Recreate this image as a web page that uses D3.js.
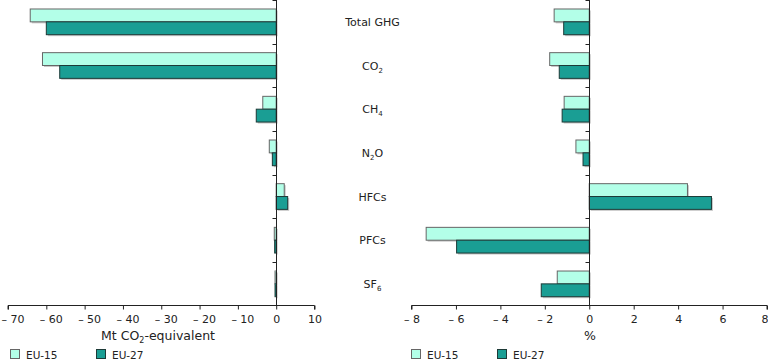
<!DOCTYPE html>
<html>
<head>
  <meta charset="UTF-8">
  <script src="https://d3js.org/d3.v7.min.js"></script>
  <style>
    body { margin: 0; background: #fff; font-family: "DejaVu Sans", Verdana, sans-serif; }
    text { font-size: 11px; fill: #222; }
  </style>
</head>
<body>
  <div id="chart"></div>
  <script>
    const categories = ["Total GHG", "CO2", "CH4", "N2O", "HFCs", "PFCs", "SF6"];
    const labelMain = ["Total GHG", "CO", "CH", "N", "HFCs", "PFCs", "SF"];
    const labelSub  = ["", "2", "4", "2", "", "", "6"];
    const labelTail = ["", "", "", "O", "", "", ""];
    const seriesNames = ["EU-15", "EU-27"];
    // Mt CO2-equivalent
    const absEU15 = [-64.2, -61.0, -3.5, -1.8, 2.1, -0.5, -0.3];
    const absEU27 = [-60.0, -56.5, -5.2, -1.0, 3.0, -0.4, -0.3];
    // %
    const pctEU15 = [-1.58, -1.78, -1.13, -0.6, 4.42, -7.34, -1.44];
    const pctEU27 = [-1.15, -1.35, -1.22, -0.28, 5.5, -5.97, -2.16];
    const leftTicks = [-70, -60, -50, -40, -30, -20, -10, 0, 10];
    const rightTicks = [-8, -6, -4, -2, 0, 2, 4, 6, 8];

    const W = 768, H = 361;
    const fills = {"EU-15": "#b3ffe8", "EU-27": "#1a9e94"};
    const strokes = {"EU-15": "#666", "EU-27": "#1d3a37"};

    const svg = d3.select("#chart").append("svg")
      .attr("width", W).attr("height", H);

    const y = d3.scaleBand().domain(categories).range([0, 305.7]).padding(0);
    const ySub = d3.scaleBand().domain(seriesNames).range([0, y.bandwidth()]).paddingOuter(0.7).paddingInner(0);

    const fmt = d => d < 0 ? "\u2013 " + Math.abs(d) : String(d);

    function panel(xRange, domain, ticks, v15, v27, negShift, legendX, title, titleSub, titleTail, titleX) {
      const x = d3.scaleLinear().domain(domain).range(xRange);
      const g = svg.append("g");
      const rows = categories.map((c, i) => ({c, vals: [{s: "EU-15", v: v15[i]}, {s: "EU-27", v: v27[i]}]}));

      const row = g.selectAll(".row").data(rows).enter().append("g")
        .attr("transform", d => `translate(0,${y(d.c)})`);

      // shadow
      row.selectAll(".sh").data(d => d.vals).enter().append("rect")
        .attr("x", d => Math.min(x(0), x(d.v)) + 1.5)
        .attr("y", d => ySub(d.s) + 1.5)
        .attr("width", d => Math.abs(x(d.v) - x(0)))
        .attr("height", ySub.bandwidth())
        .attr("fill", "#c8c8c8");

      row.selectAll(".bar").data(d => d.vals).enter().append("rect")
        .attr("x", d => Math.min(x(0), x(d.v)))
        .attr("y", d => ySub(d.s))
        .attr("width", d => Math.abs(x(d.v) - x(0)))
        .attr("height", ySub.bandwidth())
        .attr("fill", d => fills[d.s])
        .attr("stroke", d => strokes[d.s])
        .attr("stroke-width", 1);

      // x axis
      const ax = g.append("g").attr("transform", "translate(0,305.5)")
        .call(d3.axisBottom(x).tickValues(ticks).tickFormat(fmt).tickSize(4).tickPadding(5.5));
      ax.select(".domain").attr("stroke", "#222").attr("d", `M${xRange[0]},4V0H${xRange[1]}V4`);
      ax.selectAll(".tick line").attr("stroke", "#222");
      ax.selectAll("text").style("font-size", "11px").attr("fill", "#222").attr("font-family", "DejaVu Sans")
        .attr("dx", d => d < 0 ? negShift : 0)
        .attr("text-anchor", d => d === domain[1] && xRange[1] > 760 ? "end" : "middle")
        .attr("x", d => d === domain[1] && xRange[1] > 760 ? 1 : 0);

      // y axis at zero
      const x0 = Math.round(x(0)) + 0.5;
      g.append("line").attr("x1", x0).attr("x2", x0).attr("y1", 0).attr("y2", 305.7).attr("stroke", "#222");
      g.selectAll(".yt").data(categories).enter().append("line")
        .attr("x1", x0).attr("x2", x0 - 4)
        .attr("y1", c => Math.round(y(c)) + 0.5)
        .attr("y2", c => Math.round(y(c)) + 0.5)
        .attr("stroke", "#222");

      const t = g.append("text").attr("x", titleX).attr("y", 340).attr("text-anchor", "middle")
        .style("font-size", "12.5px");
      t.append("tspan").text(title);
      if (titleSub) {
        t.append("tspan").attr("dy", 3).style("font-size", "8px").text(titleSub);
        t.append("tspan").attr("dy", -3).text(titleTail);
      }

      // legend
      const lg = g.append("g").attr("transform", `translate(${legendX},0)`);
      seriesNames.forEach((s, i) => {
        lg.append("rect").attr("x", i * 86 + 0.5).attr("y", 349.5).attr("width", 9).attr("height", 9)
          .attr("fill", fills[s]).attr("stroke", strokes[s]);
        lg.append("text").attr("x", i * 86 + 16).attr("y", 359).style("font-size", "10.5px").text(s);
      });
      return x;
    }

    panel([8, 314.5], [-70, 10], leftTicks, absEU15, absEU27, 4.5, 10, "Mt CO", "2", "-equivalent", 158);
    panel([411.5, 767], [-8, 8], rightTicks, pctEU15, pctEU27, 0, 411, "%", "", "", 590);

    // category labels
    const lab = svg.append("g").selectAll("text").data(categories).enter().append("text")
      .attr("x", 372.5).attr("y", d => y(d) + y.bandwidth() / 2 + 4).attr("text-anchor", "middle");
    lab.append("tspan").text((d, i) => labelMain[i]);
    lab.append("tspan").attr("dy", 3).style("font-size", "7px").text((d, i) => labelSub[i]);
    lab.append("tspan").attr("dy", (d, i) => labelSub[i] ? -3 : 0).text((d, i) => labelTail[i]);
  </script>
</body>
</html>
